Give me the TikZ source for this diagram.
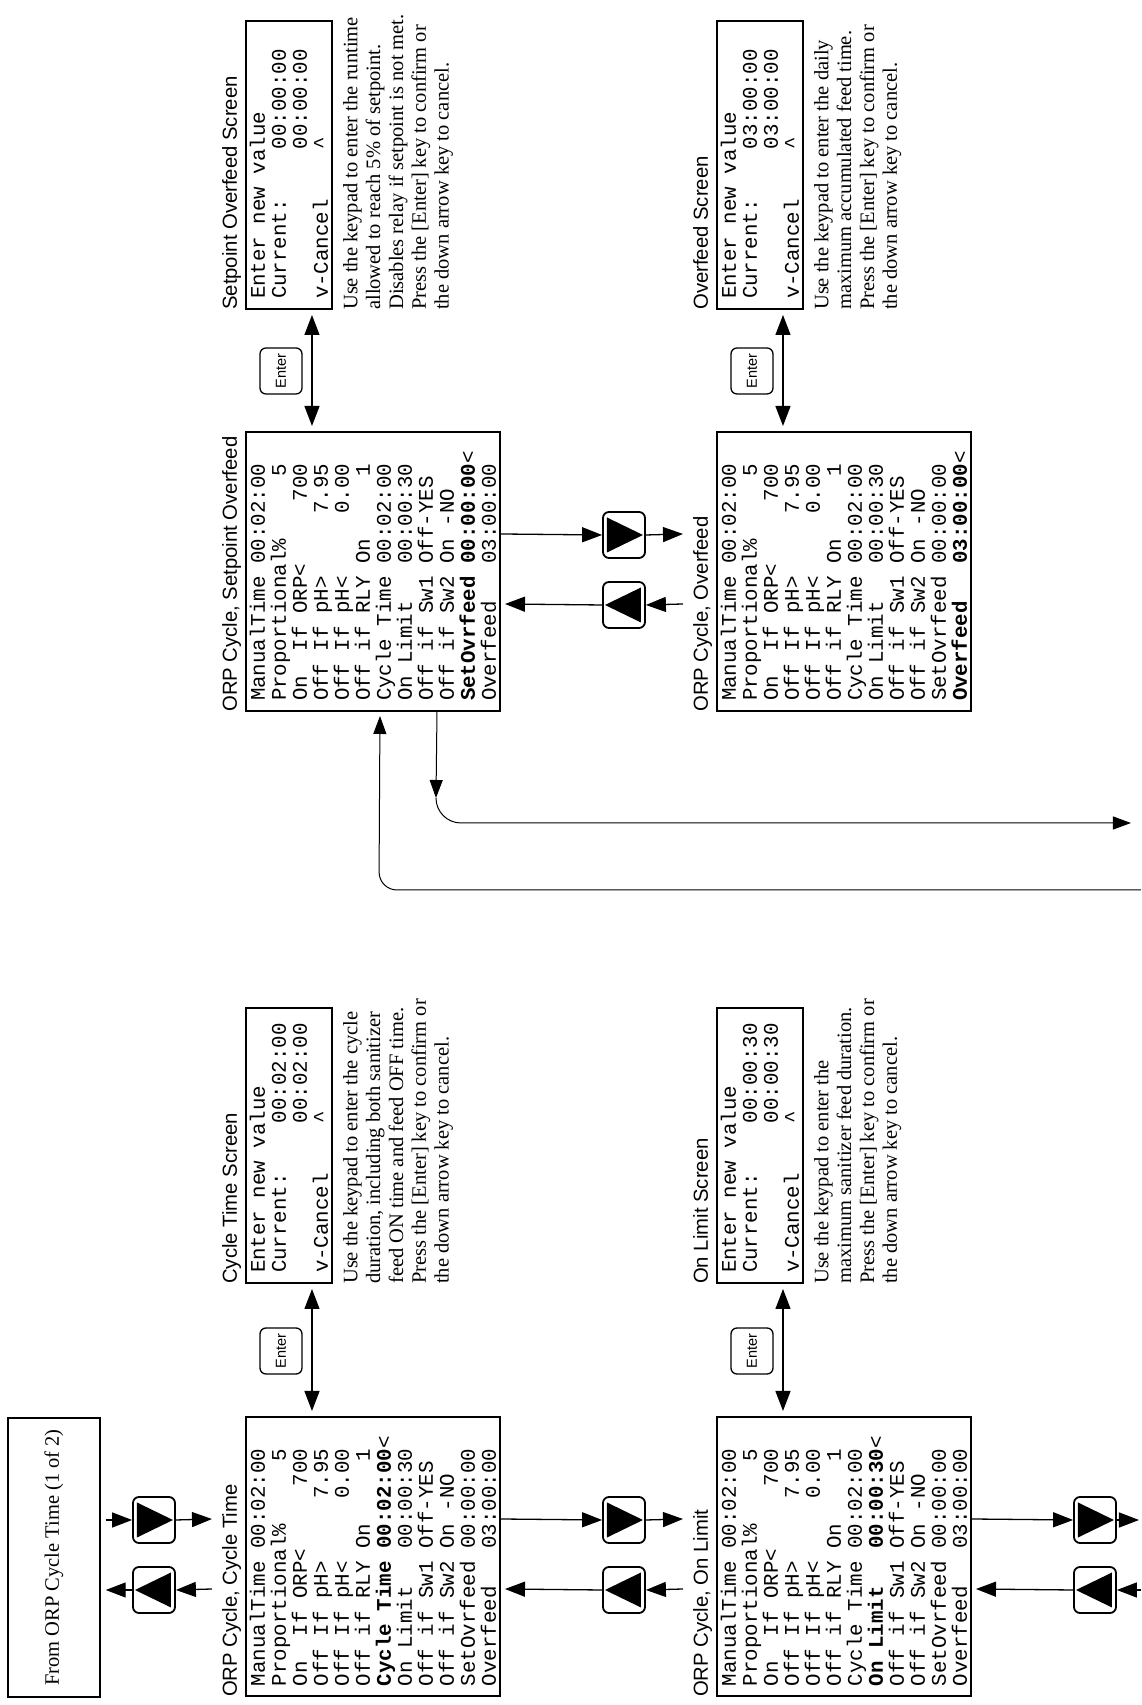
\documentclass[tikz,border=0pt]{standalone}
\usepackage{fontspec}
\setmainfont{Liberation Serif}
\setsansfont{Liberation Sans}
\setmonofont{Liberation Mono}
\usetikzlibrary{arrows.meta, positioning}

% n blank columns of the monospaced screen font
\newcommand{\padsp}[1]{\hspace*{#1\dimexpr0.6em\relax}}

\begin{document}
\begin{tikzpicture}[x=1pt, y=1pt, rotate=90, transform shape,
    menubox/.style={draw, line width=2pt, anchor=north west, align=left,
        text width=259pt, minimum height=254pt, inner xsep=10pt, inner ysep=0pt,
        font=\ttfamily\fontsize{20.8pt}{21pt}\selectfont},
    entrybox/.style={menubox, text width=255pt, minimum height=86pt},
    heading/.style={anchor=base west, inner sep=0pt,
        font=\sffamily\fontsize{20.3pt}{24pt}\selectfont},
    note/.style={anchor=north west, inner sep=0pt, align=left,
        font=\fontsize{20.5pt}{22.8pt}\selectfont},
    keycap/.style={draw, line width=1.3pt, rounded corners=6pt, minimum width=46pt,
        minimum height=42pt, inner sep=0pt, font=\sffamily\fontsize{14.5pt}{17pt}\selectfont},
    navkey/.style={keycap, line width=1.8pt},
    arr/.style={line width=1.3pt, -{Triangle[length=20pt,width=15pt]}},
    dblarr/.style={line width=1.3pt, {Triangle[length=20pt,width=15pt]}-{Triangle[length=20pt,width=15pt]},
        shorten <=5pt, shorten >=5pt},
    longarr/.style={line width=1pt, -{Triangle[length=18pt,width=13pt]}}
]
    \useasboundingbox (0,0) rectangle (1705,1141);

    % Entry box from the previous page
    \node[draw, line width=1.5pt, minimum width=279pt, minimum height=92pt,
        font=\fontsize{20.5pt}{24pt}\selectfont] (from) at (147.5,1087) {From ORP Cycle Time (1 of 2)};

    % Menu screens
    \node[menubox] (cyc) at (8,896) {ManualTime\padsp{1}00:02:00\\
        Proportional\%\padsp{5}5\\
        On\padsp{2}If\padsp{1}ORP<\padsp{5}700\\
        Off\padsp{1}If\padsp{1}pH>\padsp{5}7.95\\
        Off\padsp{1}If\padsp{1}pH<\padsp{5}0.00\\
        Off\padsp{1}if\padsp{1}RLY\padsp{1}On\padsp{5}1\\
        \textbf{Cycle\padsp{1}Time\padsp{1}00:02:00}<\\
        On\padsp{1}Limit\padsp{3}00:00:30\\
        Off\padsp{1}if\padsp{1}Sw1\padsp{1}Off-YES\\
        Off\padsp{1}if\padsp{1}Sw2\padsp{1}On\padsp{1}-NO\\
        SetOvrfeed\padsp{1}00:00:00\\
        Overfeed\padsp{3}03:00:00};
    \node[menubox] (spo) at (993,896) {ManualTime\padsp{1}00:02:00\\
        Proportional\%\padsp{5}5\\
        On\padsp{2}If\padsp{1}ORP<\padsp{5}700\\
        Off\padsp{1}If\padsp{1}pH>\padsp{5}7.95\\
        Off\padsp{1}If\padsp{1}pH<\padsp{5}0.00\\
        Off\padsp{1}if\padsp{1}RLY\padsp{1}On\padsp{5}1\\
        Cycle\padsp{1}Time\padsp{1}00:02:00\\
        On\padsp{1}Limit\padsp{3}00:00:30\\
        Off\padsp{1}if\padsp{1}Sw1\padsp{1}Off-YES\\
        Off\padsp{1}if\padsp{1}Sw2\padsp{1}On\padsp{1}-NO\\
        \textbf{SetOvrfeed\padsp{1}00:00:00}<\\
        Overfeed\padsp{3}03:00:00};
    \node[menubox] (lim) at (8,425) {ManualTime\padsp{1}00:02:00\\
        Proportional\%\padsp{5}5\\
        On\padsp{2}If\padsp{1}ORP<\padsp{5}700\\
        Off\padsp{1}If\padsp{1}pH>\padsp{5}7.95\\
        Off\padsp{1}If\padsp{1}pH<\padsp{5}0.00\\
        Off\padsp{1}if\padsp{1}RLY\padsp{1}On\padsp{5}1\\
        Cycle\padsp{1}Time\padsp{1}00:02:00\\
        \textbf{On\padsp{1}Limit\padsp{3}00:00:30}<\\
        Off\padsp{1}if\padsp{1}Sw1\padsp{1}Off-YES\\
        Off\padsp{1}if\padsp{1}Sw2\padsp{1}On\padsp{1}-NO\\
        SetOvrfeed\padsp{1}00:00:00\\
        Overfeed\padsp{3}03:00:00};
    \node[menubox] (ovf) at (993,425) {ManualTime\padsp{1}00:02:00\\
        Proportional\%\padsp{5}5\\
        On\padsp{2}If\padsp{1}ORP<\padsp{5}700\\
        Off\padsp{1}If\padsp{1}pH>\padsp{5}7.95\\
        Off\padsp{1}If\padsp{1}pH<\padsp{5}0.00\\
        Off\padsp{1}if\padsp{1}RLY\padsp{1}On\padsp{5}1\\
        Cycle\padsp{1}Time\padsp{1}00:02:00\\
        On\padsp{1}Limit\padsp{3}00:00:30\\
        Off\padsp{1}if\padsp{1}Sw1\padsp{1}Off-YES\\
        Off\padsp{1}if\padsp{1}Sw2\padsp{1}On\padsp{1}-NO\\
        SetOvrfeed\padsp{1}00:00:00\\
        \textbf{Overfeed\padsp{3}03:00:00}<};

    \node[heading] (cyct) at (8,904) {ORP Cycle, Cycle Time};
    \node[heading] (spot) at (993,904) {ORP Cycle, Setpoint Overfeed};
    \node[heading] (limt) at (8,433) {ORP Cycle, On Limit};
    \node[heading] (ovft) at (993,433) {ORP Cycle, Overfeed};

    % Value entry screens
    \node[entrybox] (cycs) at (421,896) {Enter\padsp{1}new\padsp{1}value\\
        Current:\padsp{4}00:02:00\\
        \padsp{12}00:02:00\\
        v-Cancel\padsp{4}\textasciicircum};
    \node[entrybox, text width=268pt] (spos) at (1395,896) {Enter\padsp{1}new\padsp{1}value\\
        Current:\padsp{4}00:00:00\\
        \padsp{12}00:00:00\\
        v-Cancel\padsp{4}\textasciicircum};
    \node[entrybox] (lims) at (421,425) {Enter\padsp{1}new\padsp{1}value\\
        Current:\padsp{4}00:00:30\\
        \padsp{12}00:00:30\\
        v-Cancel\padsp{4}\textasciicircum};
    \node[entrybox, text width=268pt] (ovfs) at (1395,425) {Enter\padsp{1}new\padsp{1}value\\
        Current:\padsp{4}03:00:00\\
        \padsp{12}03:00:00\\
        v-Cancel\padsp{4}\textasciicircum};

    \node[heading] (cycst) at (421,904) {Cycle Time Screen};
    \node[heading] (spost) at (1395,904) {Setpoint Overfeed Screen};
    \node[heading] (limst) at (421,433) {On Limit Screen};
    \node[heading] (ovfst) at (1395,433) {Overfeed Screen};

    \node[note] (cycn) at (421,798) {Use the keypad to enter the cycle\\
        duration, including both sanitizer\\
        feed ON time and feed OFF time.\\
        Press the [Enter] key to confirm or\\
        the down arrow key to cancel.};
    \node[note] (spon) at (1395,798) {Use the keypad to enter the runtime\\
        allowed to reach 5\% of setpoint.\\
        Disables relay if setpoint is not met.\\
        Press the [Enter] key to confirm or\\
        the down arrow key to cancel.};
    \node[note] (limn) at (421,327) {Use the keypad to enter the\\
        maximum sanitizer feed duration.\\
        Press the [Enter] key to confirm or\\
        the down arrow key to cancel.};
    \node[note] (ovfn) at (1395,327) {Use the keypad to enter the daily\\
        maximum accumulated feed time.\\
        Press the [Enter] key to confirm or\\
        the down arrow key to cancel.};

    % Enter keys and the links to the entry screens
    \node[keycap] (ent1) at (354,860) {Enter};
    \node[keycap] (ent2) at (1334,860) {Enter};
    \node[keycap] (ent3) at (354,389) {Enter};
    \node[keycap] (ent4) at (1334,389) {Enter};
    \draw[dblarr] ([yshift=-67pt]cyc.north east) -- ([yshift=-67pt]cycs.north west);
    \draw[dblarr] ([yshift=-67pt]spo.north east) -- ([yshift=-67pt]spos.north west);
    \draw[dblarr] ([yshift=-67pt]lim.north east) -- ([yshift=-67pt]lims.north west);
    \draw[dblarr] ([yshift=-67pt]ovf.north east) -- ([yshift=-67pt]ovfs.north west);

    % Arrow keys
    \foreach \nm/\x/\y in {up0/115/987, up1/115/517, up2/1100/517, up3/115/46} {
        \node[navkey] (\nm) at (\x,\y) {};
        \fill (\x-17.5,\y-17) -- (\x+17.5,\y-17) -- (\x,\y+19) -- cycle;
    }
    \foreach \nm/\x/\y in {dn0/185/987, dn1/185/517, dn2/1170/517, dn3/185/46} {
        \node[navkey] (\nm) at (\x,\y) {};
        \fill (\x-17.5,\y+17) -- (\x+17.5,\y+17) -- (\x,\y-19) -- cycle;
    }

    % From box to Cycle Time
    \draw[arr] ([xshift=-32.5pt,yshift=33pt]cyc.north) -- (up0.south);
    \draw[arr] (up0.north) -- ([xshift=-32.5pt,yshift=-5pt]from.south);
    \draw[arr] ([xshift=37.5pt,yshift=-5pt]from.south) -- (dn0.north);
    \draw[arr] (dn0.south) -- ([xshift=37.5pt,yshift=33pt]cyc.north);

    % Cycle Time to On Limit
    \draw[arr] ([xshift=-32.5pt,yshift=33pt]lim.north) -- (up1.south);
    \draw[arr] (up1.north) -- ([xshift=-32.5pt,yshift=-4pt]cyc.south);
    \draw[arr] ([xshift=37.5pt]cyc.south) -- (dn1.north);
    \draw[arr] (dn1.south) -- ([xshift=37.5pt,yshift=33pt]lim.north);

    % Setpoint Overfeed to Overfeed
    \draw[arr] ([xshift=-32.5pt,yshift=33pt]ovf.north) -- (up2.south);
    \draw[arr] (up2.north) -- ([xshift=-32.5pt,yshift=-4pt]spo.south);
    \draw[arr] ([xshift=37.5pt]spo.south) -- (dn2.north);
    \draw[arr] (dn2.south) -- ([xshift=37.5pt,yshift=33pt]ovf.north);

    % On Limit to the page edge
    \coordinate (up3in) at (115,0);
    \coordinate (dn3out) at (185,2);
    \draw[arr] (up3in) -- (up3.south);
    \draw[arr] (up3.north) -- ([xshift=-32.5pt,yshift=-4pt]lim.south);
    \draw[arr] ([xshift=37.5pt]lim.south) -- (dn3.north);
    \draw[arr] (dn3.south) -- (dn3out);

    % Links of Setpoint Overfeed with the page edge
    \coordinate (outbend) at (907,705);
    \coordinate (outcorner) at (882,705);
    \coordinate (outend) at (882,10);
    \coordinate (inend) at (815,0);
    \coordinate (incorner) at (815,762);
    \draw[longarr] ([yshift=-64pt]spo.west) -- (outbend);
    \draw[longarr, rounded corners=25pt] (outbend) -- (outcorner) -- (outend);
    \draw[longarr, rounded corners=18pt, shorten >=4pt] (inend) -- (incorner) -- ([yshift=-7pt]spo.west);

\end{tikzpicture}
\end{document}
